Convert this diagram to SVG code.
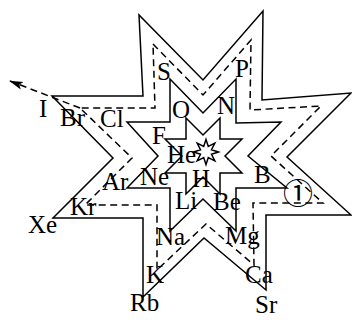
<svg xmlns="http://www.w3.org/2000/svg" width="352" height="320" viewBox="0 0 352 320">
<style>
.ln{fill:none;stroke:#000;stroke-width:1.5;stroke-linejoin:miter}
.ds{fill:none;stroke:#000;stroke-width:1.5;stroke-dasharray:7,4.5}
text{font-family:"Liberation Serif","Times New Roman",serif;font-size:25px;fill:#000}
.c{font-family:"Noto Sans CJK SC",sans-serif;font-size:30px}
</style>
<defs>
<marker id="ah" markerWidth="14" markerHeight="10" refX="13" refY="5" orient="auto" markerUnits="userSpaceOnUse">
<path d="M0,1 L14,5 L0,9 L3,5 Z" fill="#000"/>
</marker>
</defs>
<rect width="352" height="320" fill="#fff"/>
<g id="connectors">
<path class="ln" d="M52,96 L143,96 L139,15 L203,80 L263,11 L262,100 L351,93 L287,157 L351,215 L266,215 L266,290 L204,238 L143,297 L143,218 L53,218 L113,158 Z"/>
<path class="ds" d="M153,44 L203,95 L251,40 L250,110 L321,106 L271,156 L323,203 L253,203 L254,265 L206,224 L157,270 L157,205 L85,205 L132,158 L80,108 L155,108 Z"/>
<path class="ds" d="M80,108 L10,81" marker-end="url(#ah)"/>
<path class="ln" d="M170,79 L203,113 L236,79 L236,123 L281,122 L248,156 L287,188 L236,188 L236,231 L203,199 L170,231 L170,188 L127,188 L158,156 L127,122 L170,122 Z"/>
<path class="ln" d="M186,118 L203,135 L220,118 L220,139 L242,139 L225,156 L242,173 L220,173 L220,194 L203,177 L186,194 L186,173 L165,173 L182,156 L165,139 L186,139 Z"/>
<path class="ln" d="M206,139.5 L208.3,146.5 L214.8,143.2 L211.5,149.7 L218.5,152 L211.5,154.3 L214.8,160.8 L208.3,157.5 L206,164.5 L203.7,157.5 L197.2,160.8 L200.5,154.3 L193.5,152 L200.5,149.7 L197.2,143.2 L203.7,146.5 Z"/>
</g>
<g id="n-I"><text x="39" y="117">I</text></g>
<g id="n-Br"><text x="60" y="126">Br</text></g>
<g id="n-Cl"><text x="100" y="127">Cl</text></g>
<g id="n-S"><text x="157" y="80">S</text></g>
<g id="n-P"><text x="235" y="77">P</text></g>
<g id="n-O"><text x="172" y="118">O</text></g>
<g id="n-N"><text x="217" y="114">N</text></g>
<g id="n-F"><text x="152" y="144">F</text></g>
<g id="n-He"><text x="167" y="163">He</text></g>
<g id="n-Ne"><text x="140" y="185">Ne</text></g>
<g id="n-Ar"><text x="102" y="190">Ar</text></g>
<g id="n-Kr"><text x="70" y="215">Kr</text></g>
<g id="n-Xe"><text x="28" y="233">Xe</text></g>
<g id="n-H"><text x="192" y="187">H</text></g>
<g id="n-Li"><text x="175" y="209">Li</text></g>
<g id="n-Be"><text x="213" y="210">Be</text></g>
<g id="n-B"><text x="254" y="183">B</text></g>
<g id="n-Al"><text class="c" x="298" y="204" text-anchor="middle">①</text></g>
<g id="n-Na"><text x="156" y="245">Na</text></g>
<g id="n-Mg"><text x="225" y="244">Mg</text></g>
<g id="n-K"><text x="146" y="283">K</text></g>
<g id="n-Ca"><text x="245" y="283">Ca</text></g>
<g id="n-Rb"><text x="130" y="311">Rb</text></g>
<g id="n-Sr"><text x="255" y="313">Sr</text></g>
</svg>
